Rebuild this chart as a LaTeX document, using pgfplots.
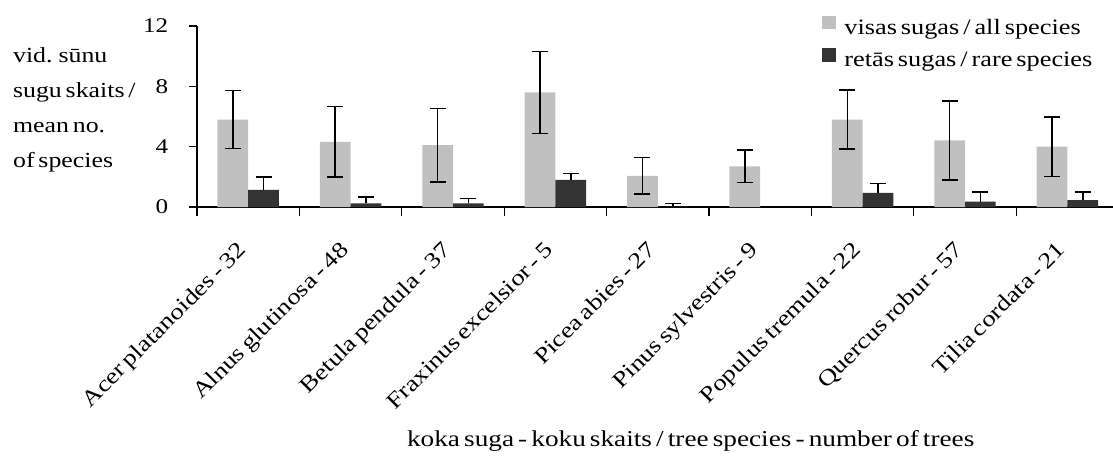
\documentclass[border=0pt]{standalone}
\usepackage{fontspec}
\setmainfont{Liberation Serif}[FakeStretch=1.2, WordSpace=0.6]
\usepackage{pgfplots}
\pgfplotsset{compat=1.18}
\usepackage{pgfplotstable}

\definecolor{allgray}{HTML}{C0C0C0}
\definecolor{raredark}{HTML}{333333}

% x: tree species index, all/rare: mean number of moss species, *err: error
\pgfplotstableread{
x all allerr rare rareerr
0 5.80 1.93 1.13 0.87
1 4.32 2.33 0.24 0.42
2 4.10 2.44 0.24 0.31
3 7.60 2.72 1.80 0.42
4 2.07 1.20 0.03 0.19
5 2.70 1.07 0.00 0.00
6 5.80 1.95 0.93 0.64
7 4.42 2.62 0.35 0.65
8 4.00 1.98 0.46 0.54
}\datatable

\begin{document}
\begin{tikzpicture}[font=\fontsize{11}{13}\selectfont]
\useasboundingbox (-98.5bp,-127bp) rectangle (458bp,103.5bp);
\begin{axis}[
  scale only axis,
  width=458bp, height=90.5bp,
  xmin=-0.5, xmax=8.445,
  ymin=0, ymax=12,
  axis lines=left,
  axis line style={-, line width=0.6bp},
  every tick/.style={black, line width=0.6bp},
  tick align=outside,
  ytick={0,4,8,12},
  major tick length=4bp,
  minor tick length=4.5bp,
  xtick={0,...,8},
  major x tick style={draw=none},
  minor xtick={-0.5,0.5,...,7.5},
  xticklabels={Acer platanoides - 32, Alnus glutinosa - 48, Betula pendula - 37,
    Fraxinus excelsior - 5, Picea abies - 27, Pinus sylvestris - 9,
    Populus tremula - 22, Quercus robur - 57, Tilia cordata - 21},
  xticklabel style={xshift=-6bp, yshift=-12.5bp, rotate=45, anchor=north east,
    inner sep=0pt, font=\fontsize{11.2}{13}\selectfont},
  yticklabel style={inner sep=0pt, xshift=-10.2bp, font=\fontsize{10.5}{12}\selectfont},
  /pgf/number format/assume math mode=true,
  xlabel={koka suga - koku skaits / tree species - number of trees},
  xlabel style={at={(axis description cs:0.539,0)}, anchor=base, yshift=-119.8bp,
    inner sep=0pt, font=\fontsize{11.4}{13}\selectfont},
  ylabel={vid. sūnu\\sugu skaits /\\mean no.\\of species},
  ylabel style={rotate=-90, at={(axis description cs:-0.2012,0.883)}, anchor=north west,
    align=left, inner sep=0pt, font=\fontsize{10.8}{17.5}\selectfont},
  legend style={draw=none, fill=none, at={(axis description cs:0.6823,1.058)},
    anchor=north west, inner sep=0pt, row sep=5.5bp, column sep=4bp,
    nodes={inner sep=0pt}, font=\fontsize{11}{13}\selectfont},
  legend cell align=left,
  ybar, bar width=0.3,
  clip=false,
]
\addplot[fill=allgray, draw=none, bar shift=-0.15,
  error bars/.cd, y dir=both, y explicit,
  error bar style={black, line width=0.75bp},
  error mark options={rotate=90, mark size=4bp, line width=0.75bp, black},
  /pgfplots/legend image code/.code={\path[fill=allgray] (0bp,-0.6bp) rectangle (7bp,6.1bp);}]
  table[x=x, y=all, y error=allerr] {\datatable};
\addlegendentry{visas sugas / all species}
\addplot[fill=raredark, draw=none, bar shift=0.15,
  error bars/.cd, y dir=plus, y explicit,
  error bar style={black, line width=0.75bp},
  error mark options={rotate=90, mark size=4bp, line width=0.75bp, black},
  /pgfplots/legend image code/.code={\path[fill=raredark] (0bp,-0.6bp) rectangle (7bp,6.1bp);}]
  table[x=x, y=rare, y error=rareerr] {\datatable};
\addlegendentry{retās sugas / rare species}
\end{axis}
\end{tikzpicture}
\end{document}
